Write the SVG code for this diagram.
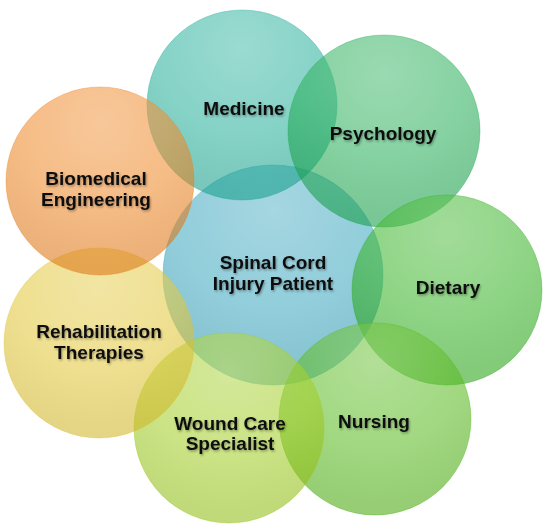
<svg xmlns="http://www.w3.org/2000/svg" width="543" height="530" viewBox="0 0 543 530">
<defs>
<radialGradient id="hl" cx="0.5" cy="0.2" r="0.75">
<stop offset="0" stop-color="#fff" stop-opacity="0.22"/>
<stop offset="0.6" stop-color="#fff" stop-opacity="0.05"/>
<stop offset="1" stop-color="#000" stop-opacity="0.04"/>
</radialGradient>
<filter id="ts" x="-20%" y="-40%" width="140%" height="180%">
<feDropShadow dx="1" dy="1.5" stdDeviation="1.2" flood-color="#000" flood-opacity="0.35"/>
</filter>
</defs>
<style>
.c{fill-opacity:0.55;stroke-opacity:0.35;stroke-width:1}
.h{fill:url(#hl)}
text{font-family:"Liberation Sans",Arial,sans-serif;font-weight:bold;font-size:19px;fill:#111;text-anchor:middle;filter:url(#ts)}
</style>
<rect width="543" height="530" fill="#fff"/>
<g id="center">
<circle class="c" cx="273" cy="275" r="110" fill="#2ea0ba" stroke="#2ea0ba"/>
<circle class="h" cx="273" cy="275" r="110"/>
</g>
<g id="medicine">
<circle class="c" cx="242" cy="105" r="95" fill="#16a993" stroke="#16a993"/>
<circle class="h" cx="242" cy="105" r="95"/>
</g>
<g id="psychology">
<circle class="c" cx="384" cy="131" r="96" fill="#16a84b" stroke="#16a84b"/>
<circle class="h" cx="384" cy="131" r="96"/>
</g>
<g id="dietary">
<circle class="c" cx="447" cy="290" r="95" fill="#26ad14" stroke="#26ad14"/>
<circle class="h" cx="447" cy="290" r="95"/>
</g>
<g id="nursing">
<circle class="c" cx="375" cy="419" r="96" fill="#4bb40d" stroke="#4bb40d"/>
<circle class="h" cx="375" cy="419" r="96"/>
</g>
<g id="wound">
<circle class="c" cx="229" cy="428" r="95" fill="#9bca14" stroke="#9bca14"/>
<circle class="h" cx="229" cy="428" r="95"/>
</g>
<g id="rehab">
<circle class="c" cx="99" cy="343" r="95" fill="#e0c32a" stroke="#e0c32a"/>
<circle class="h" cx="99" cy="343" r="95"/>
</g>
<g id="biomedical">
<circle class="c" cx="100" cy="181" r="94" fill="#ec7e14" stroke="#ec7e14"/>
<circle class="h" cx="100" cy="181" r="94"/>
</g>
<g id="connectors"/>
<g id="labels">
<text x="244" y="115">Medicine</text>
<text x="383" y="140">Psychology</text>
<text x="448" y="294">Dietary</text>
<text x="374" y="428">Nursing</text>
<text x="230" y="430">Wound Care</text>
<text x="230" y="450">Specialist</text>
<text x="99" y="338">Rehabilitation</text>
<text x="99" y="359">Therapies</text>
<text x="96" y="185">Biomedical</text>
<text x="96" y="206">Engineering</text>
<text x="273" y="269">Spinal Cord</text>
<text x="273" y="290">Injury Patient</text>
</g>
</svg>
